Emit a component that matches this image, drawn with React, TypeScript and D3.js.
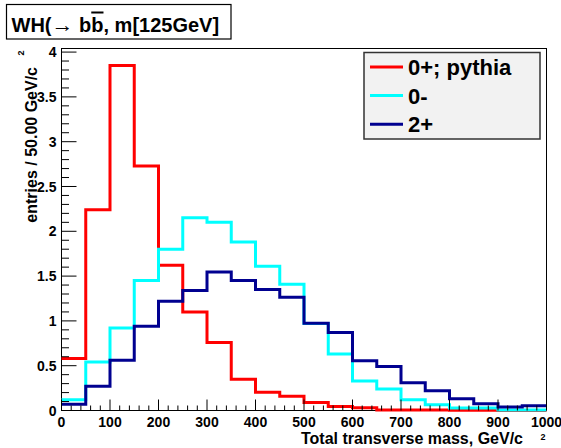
import { line, curveStepAfter, range, scaleLinear } from "d3";

// bin lower edges, 50 GeV wide
const binEdges = range(0, 1000, 50);
const binWidth = 50;

const pythia0p = [
  0.58, 2.24, 3.85, 2.73, 1.62, 1.1, 0.76, 0.35, 0.205, 0.16, 0.09, 0.045, 0.03, 0.005, 0.005,
  0.005, 0.004, 0.004, 0, 0
];
const spin0m = [
  0.12, 0.54, 0.92, 1.45, 1.8, 2.15, 2.1, 1.88, 1.61, 1.41, 0.97, 0.63, 0.33, 0.24, 0.12, 0.064,
  0.027, 0.027, 0.005, 0.005
];
const spin2p = [
  0.07, 0.27, 0.56, 0.94, 1.22, 1.34, 1.545, 1.45, 1.35, 1.265, 0.975, 0.87, 0.555, 0.49, 0.31,
  0.22, 0.13, 0.075, 0.038, 0.052
];

const series = [
  { label: "0+; pythia", values: pythia0p, color: "#ff0000" },
  { label: "0-", values: spin0m, color: "#00ffff" },
  { label: "2+", values: spin2p, color: "#000090" }
];

const xMajor = range(0, 1001, 100);
const xMinor = range(0, 1001, 20);
const yMajor = range(0, 4.01, 0.5);
const yMinor = range(0, 4.04, 0.1);

const W = 561;
const H = 448;
const frame = { left: 61.5, right: 546.5, top: 48.5, bottom: 410.5 };
const font = "'Liberation Sans', Arial, Helvetica, sans-serif";

export default function App() {
  const x = scaleLinear().domain([0, 1000]).range([frame.left, frame.right]);
  const y = scaleLinear().domain([0, 4.04]).range([frame.bottom, frame.top]);

  const step = line<[number, number]>()
    .x((d) => x(d[0]))
    .y((d) => y(d[1]))
    .curve(curveStepAfter);

  const pathFor = (values: number[]) => {
    const pts: [number, number][] = binEdges.map((e, i) => [e, values[i]]);
    pts.push([binEdges[binEdges.length - 1] + binWidth, values[values.length - 1]]);
    return step(pts) ?? undefined;
  };

  return (
    <svg
      width={W}
      height={H}
      style={{ position: "absolute", left: 0, top: 0, background: "#fff" }}
      fontFamily={font}
      fontWeight="bold"
    >
      {/* frame */}
      <rect
        x={frame.left}
        y={frame.top}
        width={frame.right - frame.left}
        height={frame.bottom - frame.top}
        fill="#fff"
        stroke="#000"
        strokeWidth={1}
      />

      {/* histograms */}
      {series.map((s) => (
        <path key={s.label} d={pathFor(s.values)} fill="none" stroke={s.color} strokeWidth={3} />
      ))}

      {/* x axis ticks */}
      {xMinor.map((v) => (
        <line
          key={`xm${v}`}
          x1={x(v)}
          x2={x(v)}
          y1={frame.bottom}
          y2={frame.bottom - (v % 100 === 0 ? 11 : 5)}
          stroke="#000"
          strokeWidth={1}
        />
      ))}
      {xMajor.map((v) => (
        <text key={`xl${v}`} x={x(v)} y={427} fontSize={14} textAnchor="middle">
          {v}
        </text>
      ))}

      {/* y axis ticks */}
      {yMinor.map((v, i) => (
        <line
          key={`ym${i}`}
          x1={frame.left}
          x2={frame.left + (i % 5 === 0 ? 15 : 7.5)}
          y1={y(v)}
          y2={y(v)}
          stroke="#000"
          strokeWidth={1}
        />
      ))}
      {yMajor.map((v) => (
        <text key={`yl${v}`} x={56.5} y={y(v)} dy="0.36em" fontSize={14} textAnchor="end">
          {v === 0 ? "0" : String(v)}
        </text>
      ))}

      {/* axis titles */}
      <text x={523} y={444} fontSize={16} textAnchor="end">
        Total transverse mass, GeV/c
      </text>
      <text x={543} y={440} fontSize={9} textAnchor="middle">
        2
      </text>
      <text transform="translate(37,67) rotate(-90)" fontSize={16} textAnchor="end">
        entries / 50.00 GeV/c
      </text>
      <text transform="translate(24,53) rotate(-90)" fontSize={9} textAnchor="middle">
        2
      </text>

      {/* legend */}
      <rect x={364} y={52.5} width={176} height={86.5} fill="#f2f2f2" stroke="#333" strokeWidth={1.5} />
      {series.map((s, i) => (
        <g key={`lg${s.label}`} transform={`translate(0,${i * 28.6})`}>
          <line x1={370} x2={403} y1={67} y2={67} stroke={s.color} strokeWidth={3} />
          <text x={408} y={75} fontSize={22}>
            {s.label}
          </text>
        </g>
      ))}

      {/* title box */}
      <rect x={6.5} y={4.5} width={224.5} height={34.5} fill="#fff" stroke="#000" strokeWidth={1.2} />
      <text x={11.5} y={31.5} fontSize={20}>
        WH(<tspan fontWeight="normal" fontSize={22}>→</tspan> b<tspan textDecoration="overline" style={{ textDecoration: "overline" }}>b</tspan>, m[125GeV]
      </text>
    </svg>
  );
}
